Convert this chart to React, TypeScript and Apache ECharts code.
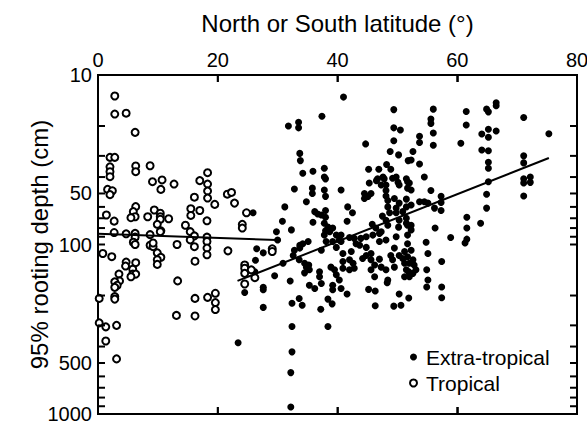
import React, { useEffect, useRef } from 'react';
import * as echarts from 'echarts';

const FONT = '"Liberation Sans", Arial, Helvetica, sans-serif';

// Axis texts
const xAxisName = 'North or South latitude (°)';
const yAxisName = '95% rooting depth (cm)';
const yTickLabels = [10, 50, 100, 500, 1000];
const yMinorTicks = [20, 30, 40, 50, 60, 70, 80, 90, 100, 200, 300, 400, 500, 600, 700, 800, 900];
const xMinorTicks = [20, 40, 60];

// [latitude (deg), 95% rooting depth (cm)]
const extraTropical: [number, number][] = [
  [25.9, 65], [26.5, 106], [26.3, 124], [26.2, 145], [24.5, 192], [23.4, 380], [27.6, 112], [29.5, 153], [27.6, 179], [27.6, 185], [27.6, 235], [30.0, 94],
  [31.8, 20], [33.5, 19], [33.5, 20.5], [33.7, 29], [33.8, 32], [34.2, 38], [31.2, 60], [30.8, 73], [29.8, 84], [32.3, 82], [30.9, 129], [32.1, 164], [32.4, 222], [33.6, 208], [34.1, 228], [32.4, 305], [32.4, 430], [32.2, 570], [32.2, 910], [32.8, 47], [32.8, 108], [33.7, 105], [32.6, 116], [33.6, 123], [34.5, 129], [35.2, 132], [34.5, 147], [34.2, 99], [35.1, 96], [33.7, 101], [34.8, 136], [35.3, 141], [34.8, 56],
  [35.9, 37], [37.4, 17.5], [41.0, 13.5], [35.8, 46.5], [35.8, 50], [37.8, 35.5], [37.8, 40], [38.0, 41], [38.0, 52], [37.8, 47.7], [40.6, 47.7], [36.2, 64], [36.7, 66], [37.3, 67], [38.0, 63], [35.9, 74], [38.0, 69], [37.8, 75], [38.4, 79], [38.0, 83], [38.7, 84], [39.8, 88], [40.6, 88], [37.8, 88], [38.1, 96], [39.2, 96], [40.6, 96], [39.2, 80], [37.3, 108], [39.8, 104], [40.9, 113], [42.3, 110], [40.9, 126], [42.0, 123], [42.6, 129], [42.0, 141], [40.9, 138], [38.9, 136], [39.5, 141], [39.8, 151], [40.3, 162], [37.0, 145], [37.0, 155], [39.2, 174], [39.2, 185], [40.6, 182], [35.3, 174], [36.2, 182], [37.3, 170], [37.2, 241], [38.4, 210], [39.1, 224], [38.4, 305], [41.6, 196], [42.5, 65], [41.6, 73], [41.7, 60], [42.8, 92], [43.9, 92],
  [44.7, 25.5], [49.4, 16], [49.4, 20.5], [50.5, 21.1], [49.4, 24.4], [48.8, 28.3], [50.2, 29.6], [51.8, 32], [45.2, 36], [46.9, 36], [48.2, 33.7], [48.9, 36], [49.8, 40], [47.8, 41], [46.7, 41], [44.5, 50], [45.1, 52], [45.6, 50], [44.5, 53.5], [45.8, 76], [47.5, 68], [48.4, 60], [46.5, 42], [47.6, 40], [48.1, 44.6], [48.1, 48], [48.1, 51.7], [49.2, 40.7], [50.1, 43], [51.5, 41], [49.5, 53.5], [50.3, 57], [49.8, 61], [51.5, 54], [51.5, 60], [50.2, 79], [51.5, 75], [45.9, 88], [47.0, 86], [44.8, 90], [45.3, 43.4], [47.3, 44.6], [50.3, 44.6], [51.7, 42.6], [51.7, 46.5], [48.4, 55], [52.3, 58.5], [48.7, 65], [49.8, 65], [50.9, 64], [50.3, 72], [51.5, 70], [51.7, 77], [51.7, 88], [47.3, 84], [47.0, 96], [43.7, 101], [44.8, 104], [45.6, 113], [44.8, 116], [44.2, 121], [45.6, 123], [46.2, 132], [45.6, 141], [47.0, 122], [47.3, 136], [48.1, 141], [46.2, 155], [48.4, 162], [49.5, 105], [48.9, 116], [50.3, 116], [49.2, 123], [50.9, 121], [51.7, 118], [52.0, 129], [51.5, 141], [52.8, 132], [53.1, 141], [52.0, 155], [51.2, 155], [50.3, 196], [51.9, 207], [45.2, 184], [46.3, 188], [46.3, 230], [49.4, 231], [50.6, 228], [48.3, 168], [49.5, 136], [42.8, 138], [46.4, 80], [48.1, 72], [48.4, 77],
  [53.7, 56], [54.5, 56], [55.1, 57], [54.8, 97], [55.1, 113], [55.1, 162], [54.9, 141], [52.0, 43.4], [52.3, 47.7], [52.6, 28.3], [52.3, 31.7], [53.7, 33.5], [54.5, 40], [55.6, 48], [56.2, 61], [57.3, 52], [57.3, 56.5], [57.3, 63], [56.3, 80], [52.3, 77], [52.3, 82], [57.4, 126], [52.3, 108], [52.6, 123], [52.6, 148], [54.9, 178], [57.4, 178], [57.4, 206], [53.7, 23], [53.7, 25], [56.0, 15.9], [55.6, 18.2], [55.6, 19.3], [56.0, 22], [56.0, 26], [58.9, 91], [61.5, 16.4], [61.5, 19.7], [60.6, 25.3], [61.6, 69], [61.6, 80], [61.6, 93], [61.3, 98], [64.9, 15.9], [65.2, 16.5], [66.5, 14.6], [66.5, 15.2], [64.1, 22.3], [65.2, 20.9], [65.2, 23.3], [66.5, 21.4], [64.1, 27.7], [65.2, 28], [65.2, 32.7], [65.2, 35.5], [65.2, 42.6], [64.9, 50.5], [64.9, 61], [63.9, 75], [71.1, 17.8], [71.1, 30], [71.1, 33], [71.1, 41], [71.1, 43.4], [72.2, 40], [72.2, 43], [71.1, 51.7], [75.3, 22.2], [42.0, 91], [43.1, 99], [40.3, 94], [48.1, 94], [49.8, 90], [51.7, 99], [51.2, 110], [51.2, 129], [51.9, 145],
];

const tropical: [number, number][] = [
  [2.8, 13.3], [2.8, 17], [4.7, 16.8], [6.2, 21.8], [2.0, 30.6], [2.8, 30.6], [2.0, 34.8], [2.0, 37.2], [2.0, 39.8], [1.6, 47.3], [2.4, 48.2], [2.0, 50.8],
  [6.3, 34.4], [6.3, 37.2], [8.7, 34.3], [9.1, 42.6], [10.7, 41.6], [10.5, 47.3], [12.7, 44], [17.0, 42], [18.3, 37.7], [18.3, 44], [18.3, 48.4], [18.3, 53.2], [16.1, 52.6], [21.6, 50.5], [22.3, 49.3], [22.8, 57], [19.5, 58],
  [1.4, 67], [2.7, 72.8], [6.3, 59.8], [5.9, 64], [6.2, 68.6], [5.5, 69.5], [8.3, 68.6], [9.4, 62.6], [10.4, 65.4], [10.4, 68.6], [10.4, 71], [11.8, 70.5], [9.9, 76], [10.5, 83], [15.5, 61.5], [15.5, 67.4], [17.0, 63], [18.2, 72.5], [14.6, 77], [15.4, 84], [16.1, 89], [18.2, 90.5], [24.8, 65], [24.1, 76], [24.1, 80],
  [2.7, 85], [4.7, 86.5], [6.2, 86], [8.7, 87.5], [6.2, 90.5], [5.9, 97], [6.2, 100], [8.7, 101], [9.2, 103], [9.2, 98], [9.9, 112], [10.5, 119], [9.9, 123], [9.9, 131], [13.2, 100], [16.1, 103], [16.2, 125.5], [18.2, 96], [18.2, 105], [18.2, 115], [21.7, 109], [15.4, 94], [10.4, 84],
  [0.8, 113], [2.3, 118], [4.7, 127], [4.6, 134], [6.3, 128], [5.8, 140], [5.8, 149.5], [6.3, 149.5], [5.5, 155], [3.5, 149.5], [3.6, 164], [2.8, 166], [3.2, 174], [2.8, 179], [13.3, 164],
  [0.2, 208], [2.8, 203], [2.8, 210], [16.2, 208], [18.3, 205], [19.6, 194], [19.6, 220], [19.6, 242], [0.2, 290], [1.3, 306], [3.1, 300], [13.1, 262], [16.2, 264], [1.3, 371], [3.1, 473],
  [24.5, 132], [24.5, 138], [24.5, 148], [25.6, 141], [26.2, 157], [24.5, 171], [29.1, 106], [29.1, 110],
];

// Regression lines: [latitude, depth] at both ends
const tropicalFit: [number, number][] = [[0, 86.5], [29.8, 94]];
const extraTropicalFit: [number, number][] = [[23.3, 164], [75.3, 30.9]];

const X_MIN = 0;
const X_MAX = 80;
const Y_MIN = 10;
const Y_MAX = 1000;
const TICK_LEN = 7;
const TICK_W = 2;

export default function App() {
  const ref = useRef<HTMLDivElement>(null);

  useEffect(() => {
    document.body.style.margin = '0';
    const chart = echarts.init(ref.current!, null, { renderer: 'svg' });
    const log10 = (v: number) => Math.log10(v);
    const mkLine = () => ({ show: true, onZero: false, lineStyle: { color: '#000', width: 2 } });

    const option: any = {
      animation: false,
      backgroundColor: '#fff',
      grid: {
        left: 98, right: 10, top: 75, bottom: 9, outerBoundsMode: 'none', containLabel: false,
        show: true, borderColor: '#000', borderWidth: 2, backgroundColor: 'transparent',
      },
      legend: {
        orient: 'vertical',
        left: 409,
        top: 346,
        padding: 0,
        itemGap: 4,
        itemWidth: 7,
        itemHeight: 7,
        data: ['Extra-tropical', 'Tropical'],
        textStyle: { color: '#000', fontSize: 21, fontFamily: FONT, lineHeight: 22, padding: [0, 0, 0, 4] },
      },
      xAxis: [
        {
          type: 'value', position: 'top', min: X_MIN, max: X_MAX, interval: 20,
          name: xAxisName, nameLocation: 'middle', nameGap: 40, nameMoveOverlap: false,
          nameTextStyle: { color: '#000', fontSize: 24, fontFamily: FONT },
          axisLine: mkLine(),
          axisTick: { show: true, inside: true, length: TICK_LEN, lineStyle: { color: '#000', width: 1.5 } },
          axisLabel: { color: '#000', fontSize: 20, fontFamily: FONT, margin: 5, lineHeight: 20 },
          splitLine: { show: false },
        },
        {
          type: 'value', position: 'bottom', min: X_MIN, max: X_MAX, interval: 20,
          axisLine: mkLine(),
          axisTick: { show: true, inside: true, length: TICK_LEN, lineStyle: { color: '#000', width: 1.5 } },
          axisLabel: { show: false }, splitLine: { show: false },
        },
      ],
      yAxis: [
        {
          type: 'log', logBase: 10, min: Y_MIN, max: Y_MAX, inverse: true, position: 'left',
          axisLine: mkLine(), axisTick: { show: false }, axisLabel: { show: false }, splitLine: { show: false },
        },
        {
          type: 'value', min: 1, max: 3, inverse: true, position: 'left',
          name: yAxisName, nameLocation: 'middle', nameGap: 47, nameMoveOverlap: false,
          nameTextStyle: { color: '#000', fontSize: 24, fontFamily: FONT },
          axisLine: mkLine(), axisTick: { show: false },
          axisLabel: {
            color: '#000', fontSize: 20, fontFamily: FONT, margin: 6,
            customValues: yTickLabels.map(log10),
            formatter: (v: number) => String(Math.round(Math.pow(10, v))),
          },
          splitLine: { show: false },
        },
      ],
      series: [
        {
          name: 'Extra-tropical', type: 'scatter', xAxisIndex: 0, yAxisIndex: 0,
          symbol: 'circle', symbolSize: 7, data: extraTropical,
          itemStyle: { color: '#000', opacity: 1 },
        },
        {
          name: 'Tropical', type: 'scatter', xAxisIndex: 0, yAxisIndex: 0,
          symbol: 'emptyCircle', symbolSize: 7, data: tropical,
          itemStyle: { color: '#000', borderColor: '#000', borderWidth: 1, opacity: 1 },
        },
        {
          name: 'Tropical fit', type: 'line', xAxisIndex: 0, yAxisIndex: 0,
          data: tropicalFit, symbol: 'none', silent: true,
          lineStyle: { color: '#000', width: 2 },
        },
        {
          name: 'Extra-tropical fit', type: 'line', xAxisIndex: 0, yAxisIndex: 0,
          data: extraTropicalFit, symbol: 'none', silent: true,
          lineStyle: { color: '#000', width: 2 },
        },
        {
          // log-scale minor ticks on the left and right frame, placed through the log axis
          name: 'y ticks', type: 'custom', xAxisIndex: 0, yAxisIndex: 0, silent: true, clip: false, z: 10,
          data: yMinorTicks.map((v) => [X_MIN, v]),
          renderItem: (_p: any, api: any) => {
            const v = api.value(1);
            const l = api.coord([X_MIN, v]);
            const r = api.coord([X_MAX, v]);
            return {
              type: 'group',
              children: [
                { type: 'rect', shape: { x: l[0], y: l[1] - TICK_W / 2, width: TICK_LEN, height: TICK_W }, style: { fill: '#000' } },
                { type: 'rect', shape: { x: r[0] - TICK_LEN, y: r[1] - TICK_W / 2, width: TICK_LEN, height: TICK_W }, style: { fill: '#000' } },
              ],
            };
          },
        },
        {
          // ticks on the top and bottom frame
          name: 'x ticks', type: 'custom', xAxisIndex: 0, yAxisIndex: 0, silent: true, clip: false, z: 10,
          data: xMinorTicks.map((v) => [v, Y_MIN]),
          renderItem: (_p: any, api: any) => {
            const v = api.value(0);
            const t = api.coord([v, Y_MIN]);
            const b = api.coord([v, Y_MAX]);
            return {
              type: 'group',
              children: [
                { type: 'rect', shape: { x: t[0] - TICK_W / 2, y: t[1], width: TICK_W, height: TICK_LEN }, style: { fill: '#000' } },
                { type: 'rect', shape: { x: b[0] - TICK_W / 2, y: b[1] - TICK_LEN, width: TICK_W, height: TICK_LEN }, style: { fill: '#000' } },
              ],
            };
          },
        },
      ],
    };
    chart.setOption(option);
    return () => chart.dispose();
  }, []);

  return <div ref={ref} style={{ position: 'fixed', left: 0, top: 0, width: 587, height: 423 }} />;
}
